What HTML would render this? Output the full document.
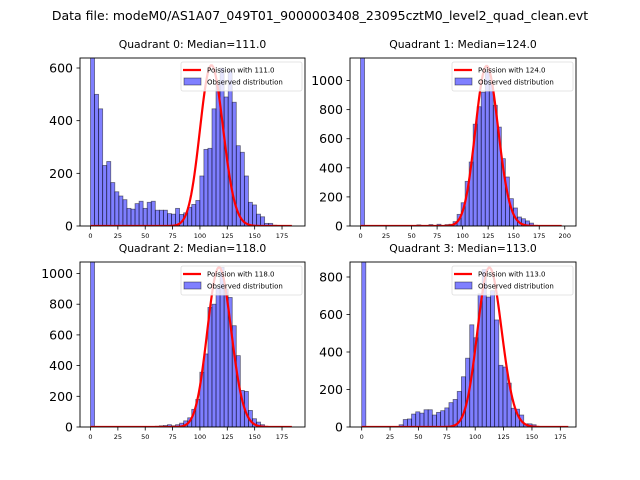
<!DOCTYPE html>
<html><head><meta charset="utf-8"><style>
body{margin:0;background:#fff;}
svg{display:block;font-family:"DejaVu Sans","Liberation Sans",sans-serif;}
</style></head><body>
<svg id="fig" width="640" height="480" viewBox="0 0 640 480" xmlns="http://www.w3.org/2000/svg">
<rect width="640" height="480" fill="#fff"/>
<text x="320" y="20" text-anchor="middle" font-size="12.5">Data file: modeM0/AS1A07_049T01_9000003408_23095cztM0_level2_quad_clean.evt</text>
</svg>
<script>
const quadTitles = ["Quadrant 0: Median=111.0","Quadrant 1: Median=124.0","Quadrant 2: Median=118.0","Quadrant 3: Median=113.0"];
const medians = [111.0,124.0,118.0,113.0];
const binWidths = [3.7,3.94,3.7,3.66];
const peakScale = [610,1100,1040,850];
const q0Counts = [700,500,445,230,245,165,130,114,100,67,64,85,94,67,90,94,60,60,60,47,45,67,44,50,71,82,97,190,291,295,445,540,600,490,590,470,305,280,190,90,80,45,35,10,10,3,2,1,0,0];
const q1Counts = [1200,0,0,0,0,0,0,0,0,0,0,0,0,0,8,0,0,10,0,12,0,10,12,30,80,160,307,440,700,820,920,1060,980,830,680,463,337,188,124,62,50,35,20,5,3,2,1,0,0,0];
const q2Counts = [1100,0,0,0,0,0,0,0,0,0,0,0,0,0,0,0,5,8,10,15,8,15,25,40,60,115,180,357,476,779,800,905,1040,898,844,660,465,238,232,108,54,32,15,3,2,1,0,0,0,0];
const q3Counts = [900,0,0,0,0,0,0,0,0,12,40,43,69,81,74,92,92,64,78,87,102,130,147,190,268,367,545,476,710,840,693,727,571,329,320,234,100,95,64,17,17,12,2,0,0,0,0,0,0,0];
const allCounts = [q0Counts,q1Counts,q2Counts,q3Counts];
const xTicks = [[0,25,50,75,100,125,150,175],[0,25,50,75,100,125,150,175,200],[0,25,50,75,100,125,150,175],[0,25,50,75,100,125,150,175]];
const yTicks = [[0,200,400,600],[0,200,400,600,800,1000],[0,200,400,600,800,1000],[0,200,400,600,800]];
const xLims = [[-9.6,196],[-10.3,211],[-9.6,196],[-10.3,188.8]];
const yMaxs = [638,1155,1075,880];
const curveMax = [184,197,184,182];

const boxes = [{l:80,t:58,r:305,b:226},{l:350,t:58,r:576,b:226},{l:80,t:262,r:305,b:427},{l:350,t:262,r:576,b:427}];
const NS="http://www.w3.org/2000/svg";
const svg=document.getElementById('fig');
function mk(tag,attrs,parent){const e=document.createElementNS(NS,tag);for(const k in attrs)e.setAttribute(k,attrs[k]);(parent||svg).appendChild(e);return e;}
function logPois(k,lam){let s=0;for(let i=2;i<=k;i++)s+=Math.log(i);return k*Math.log(lam)-lam-s;}

for(let q=0;q<4;q++){
  const B=boxes[q];
  const xs=v=>B.l+(v-xLims[q][0])/(xLims[q][1]-xLims[q][0])*(B.r-B.l);
  const ys=v=>B.b-v/yMaxs[q]*(B.b-B.t);
  const g=mk('g',{});
  
  
  const clipId='clip'+q;
  const cp=mk('clipPath',{id:clipId},g);mk('rect',{x:B.l,y:B.t,width:B.r-B.l,height:B.b-B.t},cp);
  const title=mk('text',{x:(B.l+B.r)/2,y:B.t-10,'text-anchor':'middle','font-size':'10.8'},g);
  title.textContent=quadTitles[q];
  
  
  const plot=mk('g',{'clip-path':'url(#'+clipId+')'},g);
  const bw=binWidths[q];
  allCounts[q].forEach((c,i)=>{
    if(c<=0)return;
    const x0=xs(i*bw),x1=xs((i+1)*bw),y=ys(c);
    const r=mk('rect',{x:x0,y:y,width:x1-x0,height:B.b-y,fill:'rgba(0,0,255,0.5)',stroke:'rgba(0,0,0,0.5)','stroke-width':'0.8'},plot);
    
    
  });
  const lam=medians[q];const peak=Math.exp(logPois(Math.floor(lam),lam));
  let d='';
  for(let k=0;k<=curveMax[q];k++){const v=Math.exp(logPois(k,lam))/peak*peakScale[q];d+=(k?'L':'M')+xs(k).toFixed(2)+','+ys(v).toFixed(2);}
  const pl=mk('path',{d:d,fill:'none',stroke:'#f00','stroke-width':'2.2'},plot);
  
  
  mk('rect',{x:B.l,y:B.t,width:B.r-B.l,height:B.b-B.t,fill:'none',stroke:'#000','stroke-width':'0.9'},g);
  xTicks[q].forEach(t=>{const x=xs(t);mk('line',{x1:x,x2:x,y1:B.b,y2:B.b+3.5,stroke:'#000','stroke-width':'0.8'},g);
    const tx=mk('text',{x:x,y:B.b+12,'text-anchor':'middle','font-size':'6.5'},g);tx.textContent=t;
    });
  yTicks[q].forEach(t=>{const y=ys(t);mk('line',{x1:B.l-3.5,x2:B.l,y1:y,y2:y,stroke:'#000','stroke-width':'0.8'},g);
    const tx=mk('text',{x:B.l-7,y:y+4.5,'text-anchor':'end','font-size':'12.5'},g);tx.textContent=t;
    });
  const lg=mk('g',{},g);
  
  
  const lx=B.r-124, ly=B.t+4;
  mk('rect',{x:lx,y:ly,width:121,height:29,rx:2,fill:'rgba(255,255,255,0.8)',stroke:'#ddd','stroke-width':'0.8'},lg);
  mk('line',{x1:lx+2,x2:lx+20,y1:ly+8,y2:ly+8,stroke:'#f00','stroke-width':'2.2'},lg);
  const t1=mk('text',{x:lx+26,y:ly+10.5,'font-size':'7'},lg);t1.textContent='Poission with '+medians[q].toFixed(1);
  mk('rect',{x:lx+3,y:ly+16,width:17,height:7,fill:'rgba(0,0,255,0.5)',stroke:'rgba(0,0,0,0.5)','stroke-width':'0.8'},lg);
  const t2=mk('text',{x:lx+26,y:ly+22.5,'font-size':'7'},lg);t2.textContent='Observed distribution';
}
</script>
</body></html>
